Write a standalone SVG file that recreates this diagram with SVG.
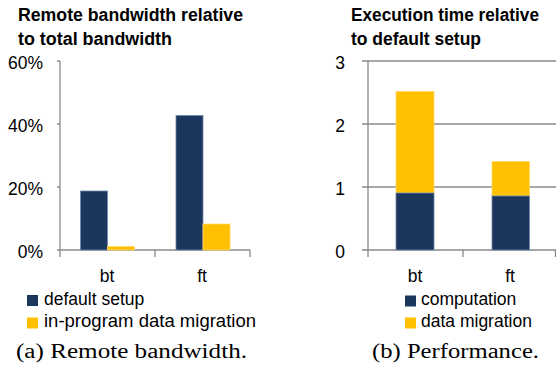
<svg xmlns="http://www.w3.org/2000/svg" width="556" height="371" viewBox="0 0 556 371">
<style>
.t{font-family:"Liberation Sans",Arial,sans-serif;font-size:17.5px;fill:#000}
.b{font-weight:bold}
.c{font-family:"Liberation Serif","Times New Roman",serif;font-size:20px;fill:#000}
.ax{stroke:#8a8a8a;stroke-width:1.3;fill:none}
.nv{fill:#1b375e;stroke:#7088a8;stroke-width:0.8}
.yl{fill:#ffc000;stroke:#ffd966;stroke-width:0.8}
.e{text-anchor:end}
.m{text-anchor:middle}
</style>
<rect width="556" height="371" fill="#fff"/>
<g id="chart-a">
  <text class="t b" x="18" y="21" textLength="225" lengthAdjust="spacingAndGlyphs">Remote bandwidth relative</text>
  <text class="t b" x="18" y="45" textLength="154" lengthAdjust="spacingAndGlyphs">to total bandwidth</text>
  <g id="axes-a">
    <path class="ax" d="M60,61V257M57,61H60M57,124H60M57,187H60M57,250H250M155,250V257M250,250V257"/>
    <text class="t e" x="43" y="69">60%</text>
    <text class="t e" x="43" y="132">40%</text>
    <text class="t e" x="43" y="195">20%</text>
    <text class="t e" x="43" y="258">0%</text>
    <text class="t m" x="107" y="282">bt</text>
    <text class="t m" x="202" y="282">ft</text>
  </g>
  <g id="bars-a">
    <rect class="nv" x="80.5" y="191" width="27" height="59"/>
    <rect class="yl" x="107.5" y="246.5" width="27" height="3.5"/>
    <rect class="nv" x="176" y="115.5" width="27" height="134.5"/>
    <rect class="yl" x="203" y="224" width="27" height="26"/>
  </g>
  <g id="legend-a">
    <rect x="27" y="295" width="11" height="11" fill="#1b375e"/>
    <text class="t" x="44" y="305">default setup</text>
    <rect x="27" y="317.5" width="11" height="11" fill="#ffc000"/>
    <text class="t" x="44" y="327" textLength="212" lengthAdjust="spacingAndGlyphs">in-program data migration</text>
  </g>
  <text class="c" x="16" y="358" textLength="231" lengthAdjust="spacingAndGlyphs">(a) Remote bandwidth.</text>
</g>
<g id="chart-b">
  <text class="t b" x="351" y="21" textLength="188" lengthAdjust="spacingAndGlyphs">Execution time relative</text>
  <text class="t b" x="351" y="45" textLength="130" lengthAdjust="spacingAndGlyphs">to default setup</text>
  <g id="axes-b">
    <path class="ax" d="M362,61H556M362,124H556M362,187H556M362,250H556M368,61V257M463,250V257M555.5,250V257"/>
    <text class="t e" x="345" y="69">3</text>
    <text class="t e" x="345" y="132">2</text>
    <text class="t e" x="345" y="195">1</text>
    <text class="t e" x="345" y="258">0</text>
    <text class="t m" x="415" y="282">bt</text>
    <text class="t m" x="510" y="282">ft</text>
  </g>
  <g id="bars-b">
    <rect class="yl" x="396" y="91.5" width="38" height="101.5"/>
    <rect class="nv" x="396" y="193" width="38" height="57"/>
    <rect class="yl" x="492" y="161.5" width="37.5" height="34.5"/>
    <rect class="nv" x="492" y="196" width="37.5" height="54"/>
  </g>
  <g id="legend-b">
    <rect x="405" y="295.5" width="11" height="11" fill="#1b375e"/>
    <text class="t" x="421" y="305">computation</text>
    <rect x="405" y="317.5" width="11" height="11" fill="#ffc000"/>
    <text class="t" x="421" y="327">data migration</text>
  </g>
  <text class="c" x="372" y="358" textLength="167" lengthAdjust="spacingAndGlyphs">(b) Performance.</text>
</g>
</svg>
